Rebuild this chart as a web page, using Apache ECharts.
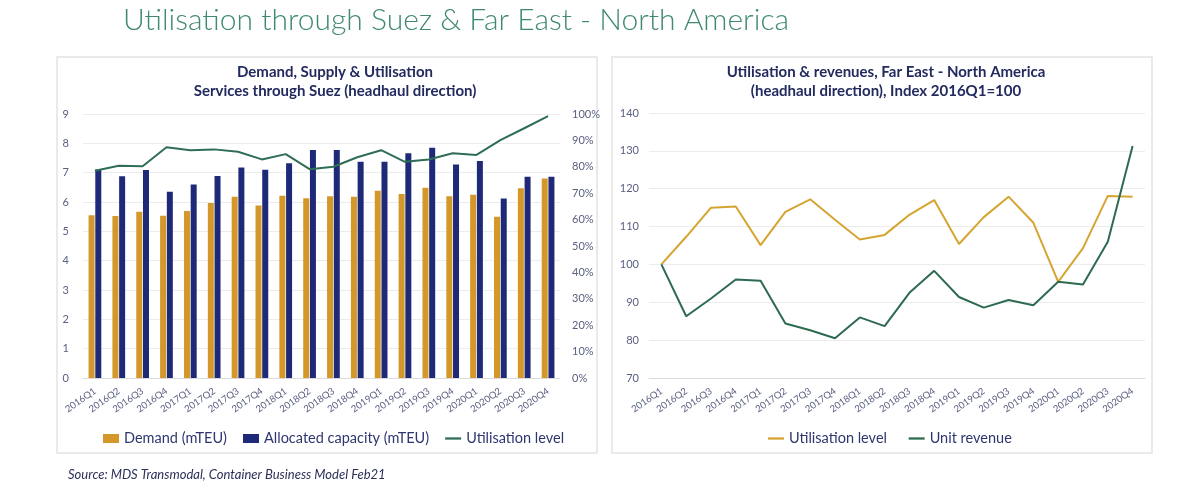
<!DOCTYPE html>
<html>
<head>
<meta charset="utf-8">
<script src="https://cdn.jsdelivr.net/npm/echarts@6/dist/echarts.min.js"></script>
<style>
  html, body { margin: 0; padding: 0; background: #fff; }
  #main { width: 1200px; height: 489px; }
</style>
</head>
<body>
<div id="main"></div>
<script>
var quarters = ['2016Q1','2016Q2','2016Q3','2016Q4','2017Q1','2017Q2','2017Q3','2017Q4',
    '2018Q1','2018Q2','2018Q3','2018Q4','2019Q1','2019Q2','2019Q3','2019Q4',
    '2020Q1','2020Q2','2020Q3','2020Q4'];
// left chart: demand & allocated capacity (mTEU), utilisation (%)
var demand = [5.55,5.52,5.67,5.53,5.69,5.97,6.18,5.88,6.21,6.13,6.2,6.18,6.38,6.27,6.49,6.2,6.25,5.5,6.47,6.8];
var capacity = [7.11,6.88,7.09,6.35,6.6,6.89,7.18,7.1,7.32,7.77,7.77,7.37,7.37,7.66,7.85,7.28,7.4,6.12,6.86,6.86];
var utilSuez = [78.5,80.4,80.2,87.4,86.3,86.6,85.7,82.8,84.8,79.1,80.0,83.6,86.3,81.9,82.8,85.1,84.5,90.1,94.6,99.2];
// right chart: index 2016Q1=100
var utilFENA = [100,107.3,115.0,115.3,105.1,113.9,117.2,111.8,106.6,107.8,113.1,117.0,105.4,112.5,117.9,111.0,95.4,104.3,118.1,117.9];
var unitRevenue = [100,86.3,91.0,96.0,95.7,84.4,82.6,80.5,86.0,83.7,92.5,98.3,91.4,88.6,90.6,89.2,95.4,94.7,106.0,131.3];

var labelColor = '#5a6080';
var font = 'Lato';
var lineIcon = 'path://M0,0 L14,0 L14,2 L0,2 Z';

var myChart = echarts.init(document.getElementById('main'));

var xAxisBase = {
    type: 'category',
    data: quarters,
    axisTick: { show: false },
    axisLine: { lineStyle: { color: '#dcdcdc' } },
    axisLabel: { interval: 0, rotate: 35, fontSize: 9.5, color: labelColor, fontFamily: font, margin: 12 }
};

var option = {
    backgroundColor: '#fff',
    textStyle: { fontFamily: font },
    title: [
        {
            text: 'Utilisation through Suez & Far East - North America',
            left: 118, top: 0,
            textStyle: { fontSize: 30, fontWeight: 300, color: '#3f8a6f', fontFamily: font }
        },
        {
            text: 'Demand, Supply & Utilisation\nServices through Suez (headhaul direction)',
            left: 330, top: 58, textAlign: 'center',
            textStyle: { fontSize: 15, fontWeight: 'bold', color: '#222a5e', lineHeight: 19, fontFamily: font }
        },
        {
            text: 'Utilisation & revenues, Far East - North America\n(headhaul direction), Index 2016Q1=100',
            left: 881, top: 58, textAlign: 'center',
            textStyle: { fontSize: 15, fontWeight: 'bold', color: '#222a5e', lineHeight: 19, fontFamily: font }
        }
    ],
    legend: [
        {
            data: [
                { name: 'Demand (mTEU)', icon: 'rect' },
                { name: 'Allocated capacity (mTEU)', icon: 'rect' },
                { name: 'Utilisation level', icon: lineIcon }
            ],
            left: 98, top: 426,
            itemWidth: 16, itemHeight: 9, itemGap: 16,
            textStyle: { fontSize: 14.5, color: '#2e3670', fontFamily: font }
        },
        {
            data: [
                { name: 'Utilisation level ', icon: lineIcon },
                { name: 'Unit revenue', icon: lineIcon }
            ],
            left: 763, top: 426,
            itemWidth: 16, itemHeight: 9, itemGap: 18,
            textStyle: { fontSize: 14.5, color: '#2e3670', fontFamily: font }
        }
    ],
    grid: [
        { left: 83, right: 640, top: 114, bottom: 111 },
        { left: 649, right: 55, top: 113, bottom: 111 }
    ],
    xAxis: [
        Object.assign({ gridIndex: 0 }, xAxisBase),
        Object.assign({ gridIndex: 1 }, xAxisBase)
    ],
    yAxis: [
        {
            gridIndex: 0, type: 'value', min: 0, max: 9, interval: 1,
            axisLine: { show: false }, axisTick: { show: false },
            splitLine: { lineStyle: { color: '#ececec' } },
            axisLabel: { fontSize: 11, color: labelColor, margin: 14 }
        },
        {
            gridIndex: 0, type: 'value', min: 0, max: 100, interval: 10, position: 'right',
            axisLine: { show: false }, axisTick: { show: false }, splitLine: { show: false },
            axisLabel: { fontSize: 11, color: labelColor, formatter: '{value}%', margin: 12 }
        },
        {
            gridIndex: 1, type: 'value', min: 70, max: 140, interval: 10,
            axisLine: { show: false }, axisTick: { show: false },
            splitLine: { lineStyle: { color: '#ececec' } },
            axisLabel: { fontSize: 11, color: labelColor, margin: 10 }
        }
    ],
    series: [
        {
            name: 'Demand (mTEU)', type: 'bar', xAxisIndex: 0, yAxisIndex: 0,
            data: demand, barWidth: 6, barGap: '12%',
            itemStyle: { color: '#d4982a' }
        },
        {
            name: 'Allocated capacity (mTEU)', type: 'bar', xAxisIndex: 0, yAxisIndex: 0,
            data: capacity, barWidth: 6, barGap: '12%',
            itemStyle: { color: '#1e2a78' }
        },
        {
            name: 'Utilisation level', type: 'line', xAxisIndex: 0, yAxisIndex: 1,
            data: utilSuez, symbol: 'none',
            lineStyle: { color: '#2f6e55', width: 2 }, itemStyle: { color: '#2f6e55' }
        },
        {
            name: 'Utilisation level ', type: 'line', xAxisIndex: 1, yAxisIndex: 2,
            data: utilFENA, symbol: 'none',
            lineStyle: { color: '#d6a531', width: 2 }, itemStyle: { color: '#d6a531' }
        },
        {
            name: 'Unit revenue', type: 'line', xAxisIndex: 1, yAxisIndex: 2,
            data: unitRevenue, symbol: 'none',
            lineStyle: { color: '#2e6a50', width: 2 }, itemStyle: { color: '#2e6a50' }
        }
    ],
    graphic: [
        {
            type: 'rect', silent: true, z: -1,
            shape: { x: 57, y: 57, width: 540, height: 396 },
            style: { fill: 'none', stroke: '#e4e4e4', lineWidth: 1.5 }
        },
        {
            type: 'rect', silent: true, z: -1,
            shape: { x: 612, y: 57, width: 540, height: 396 },
            style: { fill: 'none', stroke: '#e4e4e4', lineWidth: 1.5 }
        },
        {
            type: 'text', left: 68, top: 468,
            style: {
                text: 'Source: MDS Transmodal, Container Business Model Feb21',
                fontSize: 13, fontStyle: 'italic', fill: '#2b3058', fontFamily: font
            }
        }
    ]
};
myChart.setOption(option);
</script>
</body>
</html>
